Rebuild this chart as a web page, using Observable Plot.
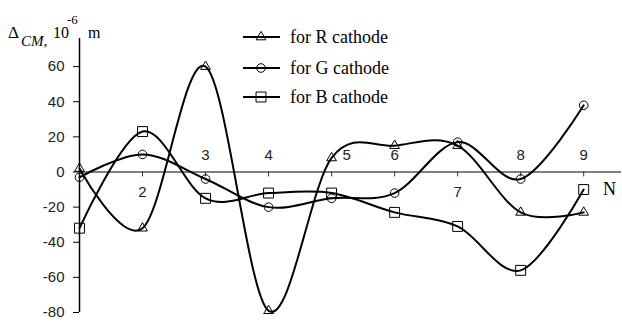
<!DOCTYPE html>
<html><head><meta charset="utf-8">
<script src="https://cdn.jsdelivr.net/npm/d3@7"></script>
<script src="https://cdn.jsdelivr.net/npm/@observablehq/plot@0.6"></script>
<style>
body{margin:0;background:#fff;}
#wrap{position:relative;width:622px;height:325px;overflow:hidden;}
#wrap svg{position:absolute;left:0;top:0;}
</style></head><body><div id="wrap"></div>
<script>
const N = [1, 2, 3, 4, 5, 6, 7, 8, 9];
const rValues = [2, -32, 60, -79, 8, 15, 15, -23, -23];
const gValues = [-3, 10, -4, -20, -15, -12, 17, -4, 38];
const bValues = [-32, 23, -15, -12, -12, -23, -31, -56, -10];
const yTicks = [-80, -60, -40, -20, 0, 20, 40, 60];
const xTickValues = [2, 3, 4, 5, 6, 7, 8, 9];
const xTickLabels = ["2", "3", "4", "5", "6", "7", "8", "9"];
const seriesNames = ["for R cathode", "for G cathode", "for B cathode"];
const seriesKeys = ["R", "G", "B"];

const series = [rValues, gValues, bValues];
const rows = series.flatMap((vals, k) => N.map((n, i) => ({n, v: vals[i], s: seriesKeys[k]})));
const symbols = {R: {symbol: "triangle", r: 3.6}, G: {symbol: "circle", r: 4.3}, B: {symbol: "square", r: 5.6}};
const labelsBelow = new Set([2, 7]);
const labelShift = {5: 15};
const xLabelRows = xTickValues.map((n, i) => ({n, t: xTickLabels[i]}));

const sans = "'Liberation Sans', Arial, sans-serif";
const serif = "'Liberation Serif', 'Times New Roman', serif";

const chart = Plot.plot({
  width: 622, height: 325,
  marginLeft: 79, marginRight: 1, marginTop: 38, marginBottom: 13,
  style: {background: "white", fontFamily: sans},
  x: {domain: [1, 9.6], axis: null},
  y: {domain: [-80, 76], axis: null},
  marks: [
    Plot.ruleY([0], {x1: 1, x2: 9.6, stroke: "#555", strokeWidth: 1.3}),
    Plot.ruleX(xTickValues, {y1: 0, y2: -2.8, stroke: "#333", strokeWidth: 1}),
    Plot.text(xLabelRows, {x: "n", y: 0, text: "t", fontSize: 15, fill: "#222"}),
    Plot.ruleX([1], {y1: -80, y2: 76, stroke: "black", strokeWidth: 1.5}),
    Plot.axisY(yTicks, {anchor: "left", tickSize: 6, tickPadding: 9, fontSize: 15, fill: "#222", stroke: "black", label: null, tickFormat: d => String(d)}),
    Plot.line(rows, {x: "n", y: "v", z: "s", curve: "cardinal", stroke: "black", strokeWidth: 2}),
    ...seriesKeys.map(k => Plot.dot(rows.filter(d => d.s === k), {x: "n", y: "v", symbol: symbols[k].symbol, r: symbols[k].r, stroke: "black", fill: "none", strokeWidth: 1}))
  ]
});

const wrap = document.getElementById("wrap");
wrap.appendChild(chart);
// place x tick labels above or below the zero line, as in the original
d3.select(chart).selectAll("g[aria-label='text'] text").each(function() {
  const n = +this.textContent;
  const dy = labelsBelow.has(n) ? 20 : -17;
  const dx = labelShift[n] || 0;
  const t = this.getAttribute("transform") || "";
  this.setAttribute("transform", t + ` translate(${dx},${dy})`);
});

// overlay: axis title, N label, legend
const ov = d3.select(wrap).append("svg").attr("width", 622).attr("height", 325);
ov.append("text").attr("x", 8).attr("y", 38).attr("font-family", serif).attr("font-size", 17).text("Δ");
ov.append("text").attr("x", 21).attr("y", 46).attr("font-family", serif).attr("font-style", "italic").attr("font-size", 15).text("CM,");
ov.append("text").attr("x", 53).attr("y", 38).attr("font-family", serif).attr("font-size", 16).text("10");
ov.append("text").attr("x", 67).attr("y", 24).attr("font-family", serif).attr("font-size", 13).text("-6");
ov.append("text").attr("x", 88).attr("y", 38).attr("font-family", serif).attr("font-size", 16).text("m");
ov.append("text").attr("x", 603).attr("y", 195).attr("font-family", serif).attr("font-size", 18).text("N");

const legendY = [37, 68, 97];
seriesNames.forEach((name, i) => {
  const k = seriesKeys[i];
  const g = ov.append("g").attr("transform", `translate(0,${legendY[i]})`);
  g.append("line").attr("x1", 243).attr("x2", 280).attr("y1", 0).attr("y2", 0).attr("stroke", "black").attr("stroke-width", 2);
  const sym = {triangle: d3.symbolTriangle, circle: d3.symbolCircle, square: d3.symbolSquare}[symbols[k].symbol];
  g.append("path").attr("transform", "translate(261,0)")
    .attr("d", d3.symbol(sym, Math.PI * symbols[k].r * symbols[k].r)())
    .attr("fill", "none").attr("stroke", "black").attr("stroke-width", 1);
  g.append("text").attr("x", 290).attr("y", 0).attr("dy", "0.32em").attr("font-family", serif).attr("font-size", 18).text(name);
});
</script>
</body></html>
